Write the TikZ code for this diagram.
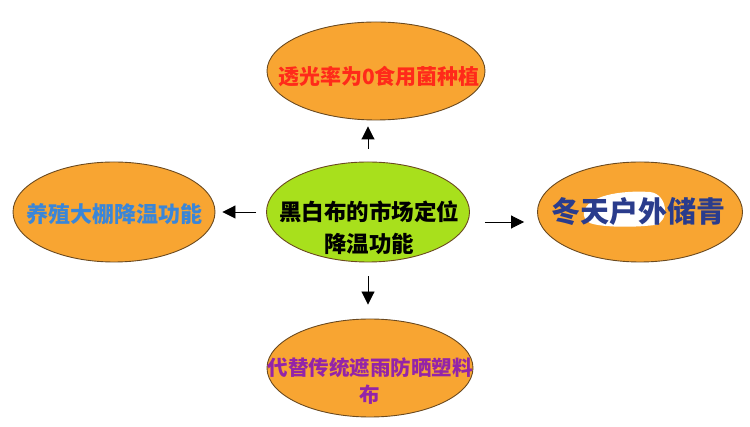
\documentclass[tikz,border=0pt]{standalone}
\usepackage{fontspec}
\newfontfamily\cjk{Noto Sans CJK SC}
\usetikzlibrary{shapes.geometric,arrows.meta}
\definecolor{orfill}{HTML}{F8A532}
\definecolor{grfill}{HTML}{A8E01C}
\definecolor{edge}{HTML}{6B4A20}
\definecolor{tred}{HTML}{FF2A1A}
\definecolor{tblue}{HTML}{3A86D8}
\definecolor{tnavy}{HTML}{2A3C8C}
\definecolor{tpurple}{HTML}{9424A8}
\tikzset{
  bubble/.style={ellipse, draw=edge, line width=0.9pt, inner sep=0pt},
  orb/.style={bubble, fill=orfill},
  grb/.style={bubble, fill=grfill},
  lbl/.style={inner sep=0pt, align=center},
  arr/.style={line width=0.9pt, -{Triangle[length=13pt,width=13pt]}}
}
\begin{document}
\begin{tikzpicture}[x=1pt,y=-1pt]
\useasboundingbox (0,0) rectangle (750,427);
\fill[white] (0,0) rectangle (750,427);
% center
\node[grb, minimum width=203pt, minimum height=100pt] (c) at (368,212) {};
\node[lbl, font=\cjk\bfseries\fontsize{22.5}{32}\selectfont] (ct) at (369,228) {黑白布的市场定位\\降温功能};
% top
\node[orb, minimum width=218pt, minimum height=98pt] (t) at (376,71) {};
\node[lbl, text=tred, font=\cjk\bfseries\fontsize{21}{24}\selectfont] (tt) at (379,77) {透光率为0食用菌种植};
% left
\node[orb, minimum width=202pt, minimum height=100pt] (l) at (114,212) {};
\node[lbl, text=tblue, font=\cjk\bfseries\fontsize{22}{24}\selectfont] (lt) at (115,214) {养殖大棚降温功能};
% right
\node[orb, minimum width=205pt, minimum height=100pt] (r) at (640,212) {};
\fill[white] (584,212) .. controls (587,196) and (620,190) .. (650,192)
  .. controls (668,194) and (670,222) .. (655,225)
  .. controls (630,228) and (600,227) .. (590,223)
  .. controls (585,220) and (583,216) .. (584,212) -- cycle;
\node[lbl, text=tnavy, font=\cjk\bfseries\fontsize{29}{30}\selectfont] (rt) at (638,212) {冬天户外储青};
% bottom
\node[orb, minimum width=206pt, minimum height=98pt] (b) at (370,368) {};
\node[lbl, text=tpurple, font=\cjk\bfseries\fontsize{20.5}{27}\selectfont] (bt) at (370,381) {代替传统遮雨防晒塑料\\布};
% connectors
\draw[arr, shorten <=13pt, shorten >=6pt] (c.north) -- (c.north |- t.south);
\draw[arr, shorten <=10pt, shorten >=7pt] (c.west) -- (c.west -| l.east);
\draw[arr, shorten <=15pt, shorten >=13pt] ([yshift=-10pt]c.east) -- ([yshift=-10pt]c.east -| r.west);
\draw[arr, shorten <=14pt, shorten >=14pt] (c.south) -- (c.south |- b.north);
\end{tikzpicture}
\end{document}
